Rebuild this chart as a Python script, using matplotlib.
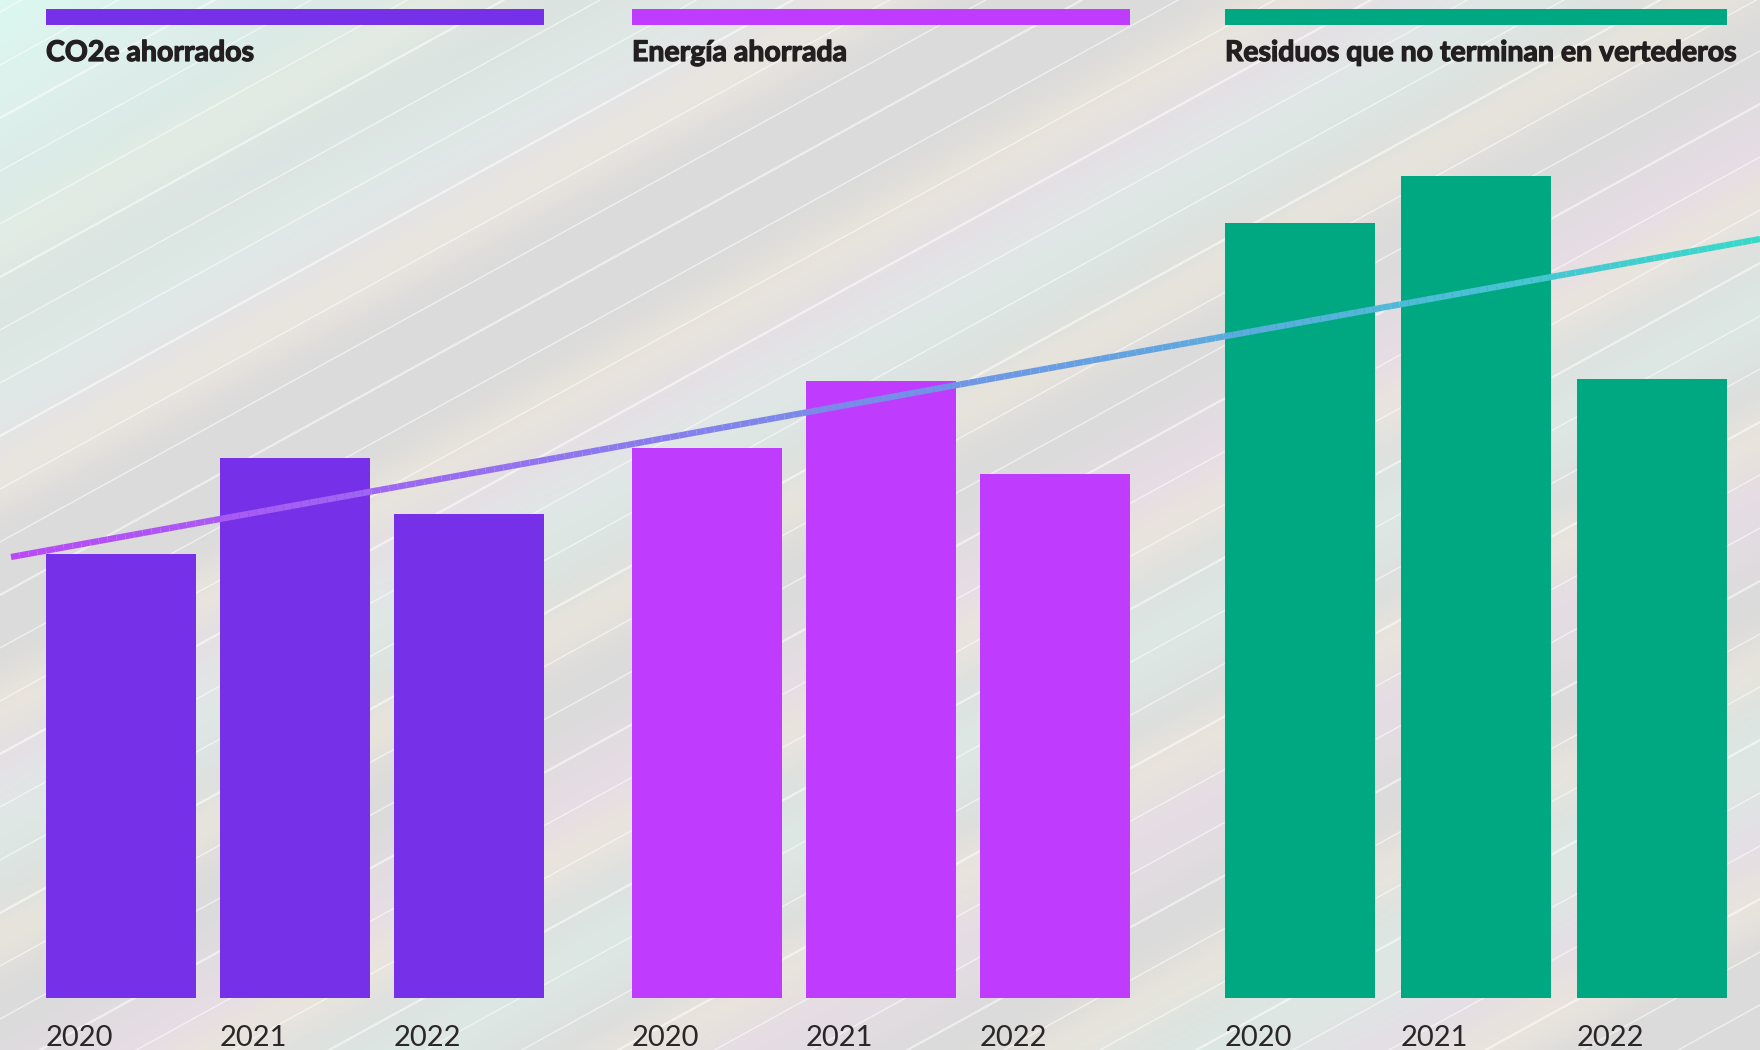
import matplotlib
matplotlib.use("Agg")
import matplotlib.pyplot as plt
import matplotlib.patheffects as pe
from matplotlib.collections import LineCollection
from matplotlib.colors import LinearSegmentedColormap
import numpy as np

# data
groups = ["CO2e ahorrados", "Energía ahorrada", "Residuos que no terminan en vertederos"]
years = ["2020", "2021", "2022"]
co2 = [444, 540, 484]
energia = [550, 617, 524]
residuos = [775, 822, 619]
trend = [441, 759]  # trend line value at left and right edge
colors = ["#7530E8", "#BF3CFF", "#00A881"]

W, H = 1760, 1050
fig = plt.figure(figsize=(W / 100, H / 100), dpi=100)
ax = fig.add_axes([0, 0, 1, 1])
ax.set_xlim(0, W)
ax.set_ylim(-52, 998)
ax.axis("off")

# background: pastel diagonal bands
xx, yy = np.meshgrid(np.linspace(0, W, 440), np.linspace(0, H, 262))
s = yy + 0.55 * xx
base = np.ones(xx.shape + (3,)) * 0.86
pink = np.array([0.93, 0.87, 0.92])
beige = np.array([0.95, 0.92, 0.86])
mint = np.array([0.87, 0.95, 0.92])
wp = (0.5 + 0.5 * np.sin(s / 55.0)) ** 3 * 0.55
wb = (0.5 + 0.5 * np.sin(s / 37.0 + 1.3)) ** 4 * 0.5
wm = (0.5 + 0.5 * np.sin(s / 71.0 + 2.4)) ** 4 * 0.5
img = base.copy()
for w, c in [(wp, pink), (wb, beige), (wm, mint)]:
    img = img * (1 - w[..., None]) + c * w[..., None]
corner = np.clip(1 - (xx + 1.6 * yy) / 700.0, 0, 1)[..., None]
img = img * (1 - corner) + np.array([0.86, 0.97, 0.94]) * corner
ax.imshow(img, extent=[0, W, -52, 998], origin="upper", aspect="auto", zorder=0)
for k, c0 in enumerate(np.arange(-200, 2200, 53)):
    ax.axline((0, 998 - c0), slope=0.55, color="white", lw=1.0 + 0.6 * (k % 3 == 0),
              alpha=0.55, zorder=1)

# bars
series = [co2, energia, residuos]
starts = [121, 707, 1300]
steps = [174, 174, 176]
bw = 150
for g, vals in enumerate(series):
    xs = [starts[g] + i * steps[g] for i in range(len(years))]
    ax.bar(xs, vals, width=bw, color=colors[g], zorder=2)
    left, right = xs[0] - bw / 2, xs[-1] + bw / 2
    ax.plot([left, right], [981, 981], color=colors[g], lw=11.5, solid_capstyle="butt", zorder=3)
    ax.text(left, 945, groups[g], fontsize=20.5, fontweight="bold", family="Lato",
            color="#231F20", va="center", ha="left", zorder=4,
            path_effects=[pe.withStroke(linewidth=0.9, foreground="#231F20")])
    for x, yr in zip(xs, years):
        ax.text(x - bw / 2, -40, yr, fontsize=21, fontweight="normal", family="Lato",
                color="#2b2627", va="center", ha="left", zorder=4)

# gradient trend line
x0, x1 = 11, W
tx = np.linspace(x0, x1, 200)
ty = trend[0] + (trend[1] - trend[0]) * (tx - x0) / (x1 - x0)
pts = np.array([tx, ty]).T.reshape(-1, 1, 2)
segs = np.concatenate([pts[:-1], pts[1:]], axis=1)
cmap = LinearSegmentedColormap.from_list("tr", ["#B84AF6", "#8C78EE", "#5FA6E0", "#38D9C9"])
lc = LineCollection(segs, cmap=cmap, linewidth=4.5, zorder=5)
lc.set_array(np.linspace(0, 1, len(segs)))
ax.add_collection(lc)

fig.savefig("out.png", dpi=100)
